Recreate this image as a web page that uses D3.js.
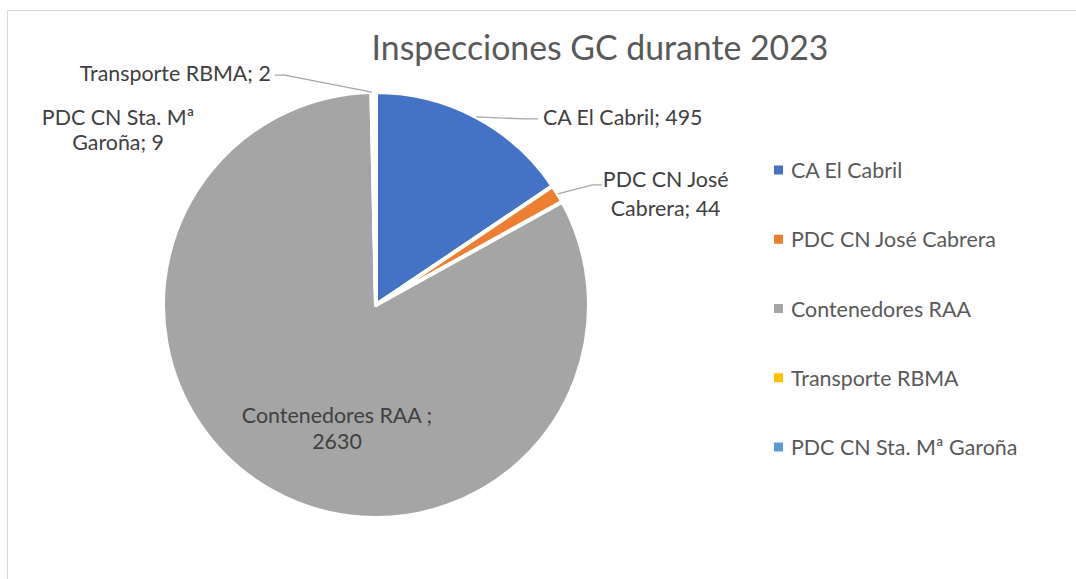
<!DOCTYPE html>
<html><head><meta charset="utf-8">
<script src="https://cdn.jsdelivr.net/npm/d3@7"></script>
<style>body{margin:0;background:#fff;} svg{display:block;} text{font-family:Lato,"Open Sans",sans-serif;}</style>
</head><body>
<svg id="c" width="1076" height="579"></svg>
<script>
const categories = ["CA El Cabril", "PDC CN José Cabrera", "Contenedores RAA", "Transporte RBMA", "PDC CN Sta. Mª Garoña"];
const values = [495, 44, 2630, 2, 9];
const labelLines = [["CA El Cabril; 495"], ["PDC CN José", "Cabrera; 44"], ["Contenedores RAA ;", "2630"], ["Transporte RBMA; 2"], ["PDC CN Sta. Mª", "Garoña; 9"]];
const colors = ["#4472C4", "#ED7D31", "#A5A5A5", "#FFC000", "#5B9BD5"];
const title = "Inspecciones GC durante 2023";

const svg = d3.select("#c");
svg.append("path").attr("d", "M7.5,579 L7.5,10.5 L1076,10.5").attr("fill", "none").attr("stroke", "#D9D9D9").attr("stroke-width", 1);

svg.append("text").attr("x", 600).attr("y", 47).attr("text-anchor", "middle").attr("dominant-baseline", "central")
  .attr("fill", "#595959").style("font-size", "33.8px").text(title);

const cx = 376, cy = 305, R = 213;
const FS = "21.4px";
const data = categories.map((c, i) => ({ name: c, value: values[i], color: colors[i], lines: labelLines[i] }));
const pie = d3.pie().sort(null).value(d => d.value);
const arcs = pie(data);
const arc = d3.arc().innerRadius(0).outerRadius(R);
const g = svg.append("g").attr("transform", `translate(${cx},${cy})`);
g.selectAll("path.slice").data(arcs).join("path").attr("class", "slice")
  .attr("d", arc).attr("fill", d => d.data.color).attr("stroke", "#fff").attr("stroke-width", 4).attr("stroke-linejoin", "round");

const edge = a => { const m = (a.startAngle + a.endAngle) / 2; return [R * Math.sin(m), -R * Math.cos(m)]; };
const labelSpec = [
  { dx: 67, dy: 0, anchor: "start", lead: [[49, 2], [62, 2]], lh: 0 },
  { dx: 108, dy: -15, anchor: "middle", lead: [[35, -9], [44, -9]], lh: 29 },
  null,
  { dx: -101, dy: -19, anchor: "end", lead: [[-87, -17], [-97, -17]], lh: 0 },
  { dx: -256, dy: 25, anchor: "middle", lead: null, lh: 25 }
];
arcs.forEach((a, i) => {
  const spec = labelSpec[i];
  let x, y;
  if (spec === null) {
    const c = arc.centroid(a);
    x = 337 - cx; y = 415 - cy;
    const t = g.append("text").attr("text-anchor", "middle").attr("fill", "#404040").style("font-size", FS);
    a.data.lines.forEach((l, k) => t.append("tspan").attr("x", x).attr("y", y + k * 26).attr("dominant-baseline", "central").text(l));
    return;
  }
  const [ex, ey] = edge(a);
  if (spec.lead) {
    const pts = [[ex, ey]].concat(spec.lead.map(p => [ex + p[0], ey + p[1]]));
    g.append("path").attr("d", d3.line()(pts)).attr("fill", "none").attr("stroke", "#A6A6A6").attr("stroke-width", 1.3);
  }
  x = ex + spec.dx; y = ey + spec.dy;
  const t = g.append("text").attr("text-anchor", spec.anchor).attr("fill", "#404040").style("font-size", FS);
  a.data.lines.forEach((l, k) => t.append("tspan").attr("x", x).attr("y", y + k * spec.lh).attr("dominant-baseline", "central").text(l));
});

const ly = d3.scalePoint().domain(categories).range([170, 447]);
const lg = svg.append("g");
categories.forEach((c, i) => {
  lg.append("rect").attr("x", 774).attr("y", ly(c) - 4.5).attr("width", 9).attr("height", 9).attr("fill", colors[i]);
  lg.append("text").attr("x", 791).attr("y", ly(c)).attr("dominant-baseline", "central").attr("fill", "#595959").style("font-size", FS).text(c);
});
</script>
</body></html>
